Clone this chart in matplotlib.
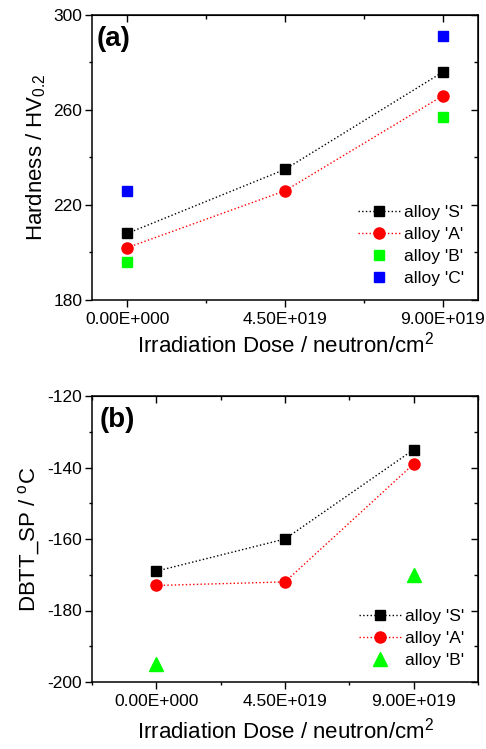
import matplotlib
matplotlib.use("Agg")
from matplotlib import pyplot as plt
from matplotlib.ticker import MultipleLocator, NullFormatter
import numpy as np

plt.rcParams['font.family'] = ['Liberation Sans', 'DejaVu Sans']
plt.rcParams['mathtext.fontset'] = 'custom'
plt.rcParams['mathtext.rm'] = 'Liberation Sans'
plt.rcParams['axes.unicode_minus'] = False

dose = np.array([0.0, 4.5e19, 9.0e19])
dose_labels = ['0.00E+000', '4.50E+019', '9.00E+019']

# panel (a) hardness
hv_S = [208, 235, 276]
hv_A = [202, 226, 266]
hv_B = [196, 257]
hv_C = [226, 291]
dose_BC = np.array([0.0, 9.0e19])
hv_ticks = [180, 220, 260, 300]

# panel (b) DBTT
dbtt_S = [-169, -160, -135]
dbtt_A = [-173, -172, -139]
dbtt_B = [-195, -170]
dose_B = np.array([0.0, 9.0e19])
dbtt_ticks = [-200, -180, -160, -140, -120]

fig = plt.figure(figsize=(4.86, 7.49), dpi=100)
ax1 = fig.add_axes([92/486, 1-300/749, 386/486, 285/749])
ax2 = fig.add_axes([92/486, 1-682/749, 386/486, 286/749])

def style(ax, yticks, ystep):
    for s in ax.spines.values():
        s.set_linewidth(1.1)
    ax.set_xticks(dose)
    ax.set_xticklabels(dose_labels)
    ax.xaxis.set_minor_locator(MultipleLocator(2.25e19))
    ax.set_yticks(yticks)
    ax.yaxis.set_minor_locator(MultipleLocator(ystep))
    ax.tick_params(which='both', direction='out', width=1.0, labelsize=12.5)
    ax.tick_params(which='major', length=5)
    ax.tick_params(which='minor', length=2.5)
    ax.tick_params(axis='x', pad=4)
    ax.tick_params(axis='y', pad=2)
    # inward ticks on top and right
    top = ax.secondary_xaxis('top')
    top.set_xticks(dose)
    top.xaxis.set_minor_locator(MultipleLocator(2.25e19))
    top.xaxis.set_major_formatter(NullFormatter())
    top.tick_params(which='both', direction='in', width=1.0)
    top.tick_params(which='major', length=5)
    top.tick_params(which='minor', length=3)
    right = ax.secondary_yaxis('right')
    right.set_yticks(yticks)
    right.yaxis.set_minor_locator(MultipleLocator(ystep))
    right.yaxis.set_major_formatter(NullFormatter())
    right.tick_params(which='both', direction='in', width=1.0)
    right.tick_params(which='major', length=5)
    right.tick_params(which='minor', length=3)

leg_kw = dict(loc='lower right', frameon=False, fontsize=12.5, handlelength=2.4,
              handletextpad=0.25, labelspacing=0.4, borderaxespad=0.4)

# ---------- (a)
ax1.plot(dose, hv_S, ls=':', color='black', lw=1.0, marker='s', ms=7, label="alloy 'S'")
ax1.plot(dose, hv_A, ls=':', color='red', lw=1.0, marker='o', ms=8, label="alloy 'A'")
ax1.plot(dose_BC, hv_B, ls='none', color='#00ff00', marker='s', ms=7, label="alloy 'B'")
ax1.plot(dose_BC, hv_C, ls='none', color='#0000ff', marker='s', ms=7, label="alloy 'C'")
ax1.set_xlim(-1.0e19, 1.0e20)
ax1.set_ylim(180, 300)
style(ax1, hv_ticks, 20)
ax1.set_ylabel('Hardness / HV$_{\\mathregular{0.2}}$', fontsize=16, labelpad=4)
ax1.set_xlabel('Irradiation Dose / neutron/cm$^{\\mathregular{2}}$', fontsize=16, labelpad=3)
ax1.text(0.013, 0.96, '(a)', transform=ax1.transAxes, fontsize=20, fontweight='bold', va='top')
ax1.legend(**leg_kw)

# ---------- (b)
ax2.plot(dose, dbtt_S, ls=':', color='black', lw=1.0, marker='s', ms=7, label="alloy 'S'")
ax2.plot(dose, dbtt_A, ls=':', color='red', lw=1.0, marker='o', ms=8, label="alloy 'A'")
ax2.plot(dose_B, dbtt_B, ls='none', color='#00ff00', marker='^', ms=10, label="alloy 'B'")
ax2.set_xlim(-2.25e19, 1.125e20)
ax2.set_ylim(-200, -120)
style(ax2, dbtt_ticks, 10)
ax2.set_ylabel('DBTT_SP / $^{\\mathregular{o}}$C', fontsize=16, labelpad=4)
ax2.set_xlabel('Irradiation Dose / neutron/cm$^{\\mathregular{2}}$', fontsize=16, labelpad=6)
ax2.text(0.02, 0.96, '(b)', transform=ax2.transAxes, fontsize=20, fontweight='bold', va='top')
ax2.legend(**leg_kw)

fig.savefig('out.png', dpi=100)
